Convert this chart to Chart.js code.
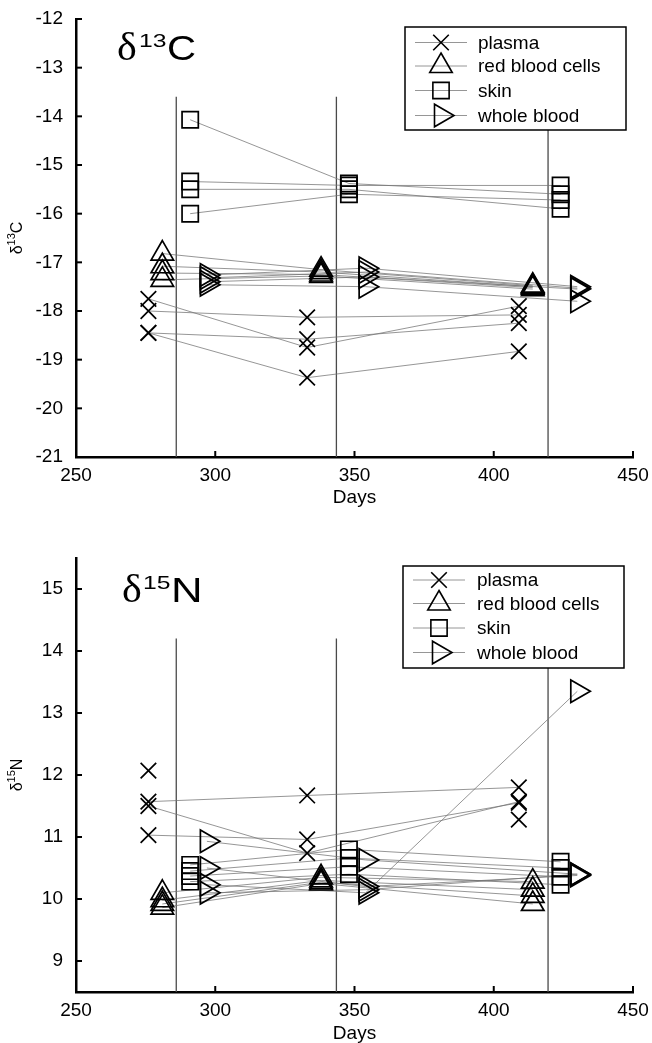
<!DOCTYPE html>
<html><head><meta charset="utf-8">
<script src="https://cdn.jsdelivr.net/npm/chart.js@4/dist/chart.umd.min.js"></script>
<style>
html,body{margin:0;padding:0;background:#fff;width:652px;height:1043px;overflow:hidden}
canvas{position:absolute;left:0}
#c1{top:0}
#c2{top:515px}
</style></head><body>
<canvas id="c1" width="652" height="515"></canvas>
<canvas id="c2" width="652" height="528"></canvas>
<script>
// ---- sampling days per tissue ----
const plasmaDays = [276, 333, 409];
const rbcDays = [281, 338, 414];
const skinDays = [291, 348, 424];
const wholeBloodDays = [297, 354, 430];
const samplingDays = [286, 343.5, 419.5];

// ---- delta 13C, one row per individual ----
const c13Plasma = [[-17.75, -18.75, -17.9], [-18.0, -18.13, -18.08], [-18.45, -18.58, -18.25], [-18.45, -19.37, -18.83]];
const c13Rbc = [[-16.82, -17.15, -17.48], [-17.08, -17.2, -17.5], [-17.22, -17.25, -17.52], [-17.36, -17.28, -17.55]];
const c13Skin = [[-14.07, -15.38, -15.6], [-15.34, -15.42, -15.42], [-15.5, -15.5, -15.9], [-16.0, -15.6, -15.72]];
const c13WholeBlood = [[-17.26, -17.12, -17.5], [-17.32, -17.2, -17.53], [-17.4, -17.3, -17.55], [-17.46, -17.5, -17.8]];

// ---- delta 15N, one row per individual ----
const n15Plasma = [[11.57, 11.67, 11.8], [11.5, 10.74, 11.57], [11.03, 10.96, 11.55], [12.07, null, 11.28]];
const n15Rbc = [[10.1, 10.35, 10.28], [9.98, 10.3, 10.15], [9.92, 10.27, 10.05], [9.86, 10.25, 9.92]];
const n15Skin = [[10.55, 10.8, 10.6], [10.45, 10.66, 10.5], [10.37, 10.52, 10.36], [10.28, 10.4, 10.23]];
const n15WholeBlood = [[10.93, 10.63, 10.4], [10.5, 10.2, 10.38], [10.23, 10.1, 13.35], [10.1, 10.15, 10.4]];

// ---- ticks / labels ----
const xTicks = [250, 300, 350, 400, 450];
const c13Ticks = [-21, -20, -19, -18, -17, -16, -15, -14, -13, -12];
const n15Ticks = [9, 10, 11, 12, 13, 14, 15];
const tissueNames = ['plasma', 'red blood cells', 'skin', 'whole blood'];

const FONT = "'Liberation Sans', Arial, Helvetica, sans-serif";
const LINE_GRAY = 'rgba(115,115,115,0.75)';
const markerStyles = [
  {pointStyle: 'crossRot', radius: 11, rotation: 0},
  {pointStyle: 'triangle', radius: 13, rotation: 0},
  {pointStyle: 'rect', radius: 11.5, rotation: 0},
  {pointStyle: 'triangle', radius: 13, rotation: 90}
];

function buildDatasets(groups, yBottom, yTop) {
  const ds = [];
  samplingDays.forEach(d => ds.push({
    data: [{x: d, y: yBottom}, {x: d, y: yTop}], showLine: true,
    borderColor: '#4a4a4a', borderWidth: 1.3, pointRadius: 0, order: 10
  }));
  groups.forEach(g => {
    g.values.forEach(row => ds.push({
      data: row.map((v, i) => ({x: g.days[i], y: v})), showLine: true, spanGaps: false,
      borderColor: LINE_GRAY, borderWidth: 1, pointRadius: 0, order: 5
    }));
  });
  groups.forEach((g, k) => {
    const pts = [];
    g.values.forEach(row => row.forEach((v, i) => { if (v !== null) pts.push({x: g.days[i], y: v}); }));
    const m = markerStyles[k];
    ds.push({
      data: pts, showLine: false, pointStyle: m.pointStyle, pointRadius: m.radius,
      pointRotation: m.rotation, pointBorderColor: '#000', pointBackgroundColor: 'rgba(0,0,0,0)',
      pointBorderWidth: 1.7, order: 1
    });
  });
  return ds;
}

function drawMarker(ctx, m, x, y) {
  if (Chart.helpers && Chart.helpers.drawPoint) {
    Chart.helpers.drawPoint(ctx, {pointStyle: m.pointStyle, radius: m.radius, rotation: m.rotation, borderWidth: 1.6}, x, y);
  }
}

const inwardTicks = {
  id: 'inwardTicks',
  afterDraw(chart) {
    const {ctx, chartArea: a, scales: {x, y}} = chart;
    ctx.save(); ctx.strokeStyle = '#000'; ctx.lineWidth = 2;
    x.ticks.forEach(t => { const p = x.getPixelForValue(t.value); ctx.beginPath(); ctx.moveTo(p, a.bottom); ctx.lineTo(p, a.bottom - 6); ctx.stroke(); });
    y.ticks.forEach(t => { const p = y.getPixelForValue(t.value); ctx.beginPath(); ctx.moveTo(a.left, p); ctx.lineTo(a.left + 6, p); ctx.stroke(); });
    ctx.restore();
  }
};

const boxLegend = {
  id: 'boxLegend',
  afterDraw(chart, args, o) {
    const ctx = chart.ctx; const [x1, y1, x2, y2] = o.box;
    ctx.save();
    ctx.fillStyle = '#fff'; ctx.fillRect(x1, y1, x2 - x1, y2 - y1);
    ctx.strokeStyle = '#000'; ctx.lineWidth = 1.5; ctx.strokeRect(x1, y1, x2 - x1, y2 - y1);
    tissueNames.forEach((name, i) => {
      const ry = o.rows[i];
      ctx.strokeStyle = LINE_GRAY; ctx.lineWidth = 1;
      ctx.beginPath(); ctx.moveTo(o.lineX[0], ry); ctx.lineTo(o.lineX[1], ry); ctx.stroke();
      ctx.strokeStyle = '#000'; ctx.fillStyle = 'rgba(0,0,0,0)'; ctx.lineWidth = 1.6;
      drawMarker(ctx, markerStyles[i], o.markerX, ry);
      ctx.fillStyle = '#000'; ctx.font = '19px ' + FONT; ctx.textBaseline = 'middle'; ctx.textAlign = 'left';
      ctx.fillText(name, o.textX, ry + 1);
    });
    ctx.restore();
  }
};

const textLabels = {
  id: 'textLabels',
  afterDraw(chart, args, o) {
    const ctx = chart.ctx;
    ctx.save(); ctx.fillStyle = '#000'; ctx.textBaseline = 'alphabetic'; ctx.textAlign = 'left';
    o.big.forEach(p => {
      ctx.save(); ctx.font = p.font; ctx.translate(p.x, p.y); ctx.scale(p.sx, 1); ctx.fillText(p.t, 0, 0); ctx.restore();
    });
    // rotated y-axis title with superscript
    const t = o.ytitle;
    ctx.translate(t.cx, t.cy); ctx.rotate(-Math.PI / 2);
    const f1 = '16px ' + FONT, f2 = '11px ' + FONT;
    ctx.font = f1; const wd = ctx.measureText('δ').width; const wl = ctx.measureText(t.letter).width;
    ctx.font = f2; const ws = ctx.measureText(t.sup).width;
    let x = -(wd + ws + wl) / 2;
    ctx.font = f1; ctx.fillText('δ', x, 0); x += wd;
    ctx.font = f2; ctx.fillText(t.sup, x, -7); x += ws;
    ctx.font = f1; ctx.fillText(t.letter, x, 0);
    ctx.restore();
  }
};

function makeChart(id, groups, yMin, yMax, yTicks, vTop, xAxisH, titlePadB, legendOpts, textOpts) {
  return new Chart(document.getElementById(id), {
    type: 'scatter',
    data: {datasets: buildDatasets(groups, yMin, vTop)},
    options: {
      responsive: false, animation: false, events: [],
      layout: {padding: {left: 0, right: 19, top: textOpts.padTop, bottom: 0}},
      plugins: {legend: {display: false}, tooltip: {enabled: false}, boxLegend: legendOpts, textLabels: textOpts},
      scales: {
        x: {
          type: 'linear', min: 250, max: 450,
          grid: {display: false}, border: {display: true, color: '#000', width: 2.5},
          ticks: {font: {family: FONT, size: 19}, color: '#000', padding: -1, maxRotation: 0, autoSkip: false, callback: v => String(v)},
          afterBuildTicks: s => { s.ticks = xTicks.map(v => ({value: v})); },
          afterFit: s => { s.height = xAxisH; },
          title: {display: true, text: 'Days', color: '#000', font: {family: FONT, size: 19, lineHeight: 1}, padding: {top: 0, bottom: titlePadB}}
        },
        y: {
          type: 'linear', min: yMin, max: yMax,
          grid: {display: false}, border: {display: true, color: '#000', width: 2.5},
          ticks: {font: {family: FONT, size: 19}, color: '#000', padding: 5, autoSkip: false, callback: v => String(v)},
          afterBuildTicks: s => { s.ticks = yTicks.map(v => ({value: v})); },
          afterFit: s => { s.width = 76; }
        }
      }
    },
    plugins: [inwardTicks, textLabels, boxLegend]
  });
}

makeChart('c1', [
  {days: plasmaDays, values: c13Plasma},
  {days: rbcDays, values: c13Rbc},
  {days: skinDays, values: c13Skin},
  {days: wholeBloodDays, values: c13WholeBlood}
], -21, -12, c13Ticks, -13.6, 58, 7.5,
  {box: [405, 27, 626, 130], rows: [42.5, 66, 90.5, 115.5], lineX: [415, 467], markerX: 441, textX: 478},
  {padTop: 19,
   big: [{t: 'δ', font: "40px 'Liberation Serif', serif", x: 117, y: 60, sx: 1.05},
         {t: '13', font: '19px ' + FONT, x: 139, y: 47, sx: 1.3},
         {t: 'C', font: '35px ' + FONT, x: 167, y: 60, sx: 1.15}],
   ytitle: {sup: '13', letter: 'C', cx: 22, cy: 238}});

makeChart('c2', [
  {days: plasmaDays, values: n15Plasma},
  {days: rbcDays, values: n15Rbc},
  {days: skinDays, values: n15Skin},
  {days: wholeBloodDays, values: n15WholeBlood}
], 8.5, 15.5, n15Ticks, 14.2, 51, 0,
  {box: [403, 51, 624, 153], rows: [65, 88.5, 113, 137.5], lineX: [413, 465], markerX: 439, textX: 477},
  {padTop: 43,
   big: [{t: 'δ', font: "40px 'Liberation Serif', serif", x: 122, y: 87, sx: 1.05},
         {t: '15', font: '19px ' + FONT, x: 143, y: 74, sx: 1.3},
         {t: 'N', font: '35px ' + FONT, x: 171, y: 87, sx: 1.25}],
   ytitle: {sup: '15', letter: 'N', cx: 22, cy: 260}});
</script>
</body></html>
